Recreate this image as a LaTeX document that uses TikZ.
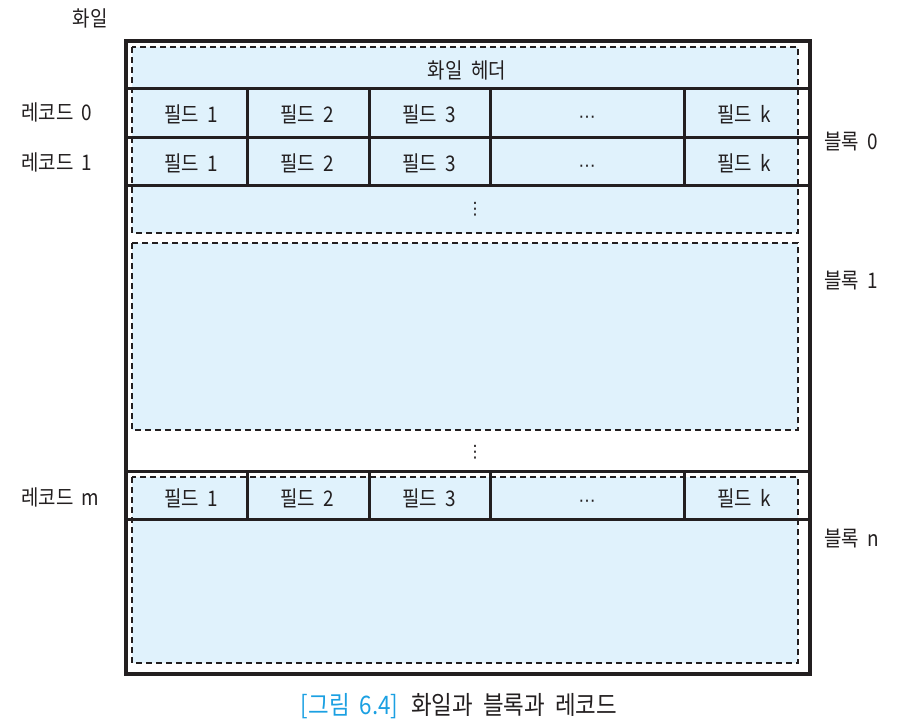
\documentclass[tikz,border=0pt]{standalone}
\usepackage{fontspec}
\setmainfont{Noto Sans CJK KR}[FakeStretch=0.88, WordSpace=2.0]
\newfontfamily\symfont{DejaVu Sans}
\definecolor{cellfill}{HTML}{E0F2FC}
\definecolor{ink}{HTML}{231F20}
\definecolor{capblue}{HTML}{1BA0E2}
\begin{document}
\begin{tikzpicture}[x=1pt,y=-1pt,
  every node/.style={inner sep=0pt, text=ink, font=\fontsize{21.5}{25}\selectfont},
  frame/.style={draw=ink, line width=3.6pt},
  blockbox/.style={draw=ink, fill=cellfill, line width=2.8pt, dash pattern=on 6pt off 4pt},
  rowline/.style={draw=ink, line width=3pt},
  lbl/.style={anchor=west},
  dotsym/.style={font=\symfont\fontsize{17}{17}\selectfont}
]
\useasboundingbox (0,0) rectangle (903,726);
% outer frame
\node[frame, minimum width=684pt, minimum height=633pt, anchor=north west] (file) at (124,39) {};
% blocks (dashed)
\draw[blockbox] (132,47) rectangle (798,233);
\draw[blockbox] (132,243) rectangle (798,430);
\draw[blockbox] (132,477) rectangle (798,663);
% horizontal row lines
\foreach \yy in {88,137,185,471,519}{
  \draw[rowline] (124,\yy) -- (808,\yy);
}
% vertical cell dividers
\foreach \xx in {247,369,490,684}{
  \draw[rowline] (\xx,88) -- (\xx,185);
  \draw[rowline] (\xx,471) -- (\xx,519);
}
% header
\node (hdr) at (467,70) {화일 헤더};
% record 0
\node (r0f1) at (191,114) {필드 1};
\node (r0f2) at (307,114) {필드 2};
\node (r0f3) at (429,114) {필드 3};
\node[dotsym] (r0f4) at (587,119) {⋯};
\node (r0fk) at (744,114) {필드 k};
% record 1
\node (r1f1) at (191,163) {필드 1};
\node (r1f2) at (307,163) {필드 2};
\node (r1f3) at (429,163) {필드 3};
\node[dotsym] (r1f4) at (587,168) {⋯};
\node (r1fk) at (744,163) {필드 k};
% record m
\node (rmf1) at (191,498) {필드 1};
\node (rmf2) at (307,498) {필드 2};
\node (rmf3) at (429,498) {필드 3};
\node[dotsym] (rmf4) at (587,503) {⋯};
\node (rmfk) at (744,498) {필드 k};
% vertical dots
\node[dotsym] (vd1) at (475,209) {⋮};
\node[dotsym] (vd2) at (475,452) {⋮};
% labels
\node (filelbl) at (90,18) {화일};
\node[lbl] (rec0) at (21,112) {레코드 0};
\node[lbl] (rec1) at (21,162) {레코드 1};
\node[lbl] (recm) at (21,497) {레코드 m};
\node[lbl] (blk0) at (824,142) {블록 0};
\node[lbl] (blk1) at (824,281) {블록 1};
\node[lbl] (blkn) at (824,539) {블록 n};
% caption
\node[font=\fontsize{25.5}{29}\selectfont] (cap) at (459,706) {\textcolor{capblue}{[그림 6.4]}\hspace{0.5em}화일과 블록과 레코드};
\end{tikzpicture}
\end{document}
